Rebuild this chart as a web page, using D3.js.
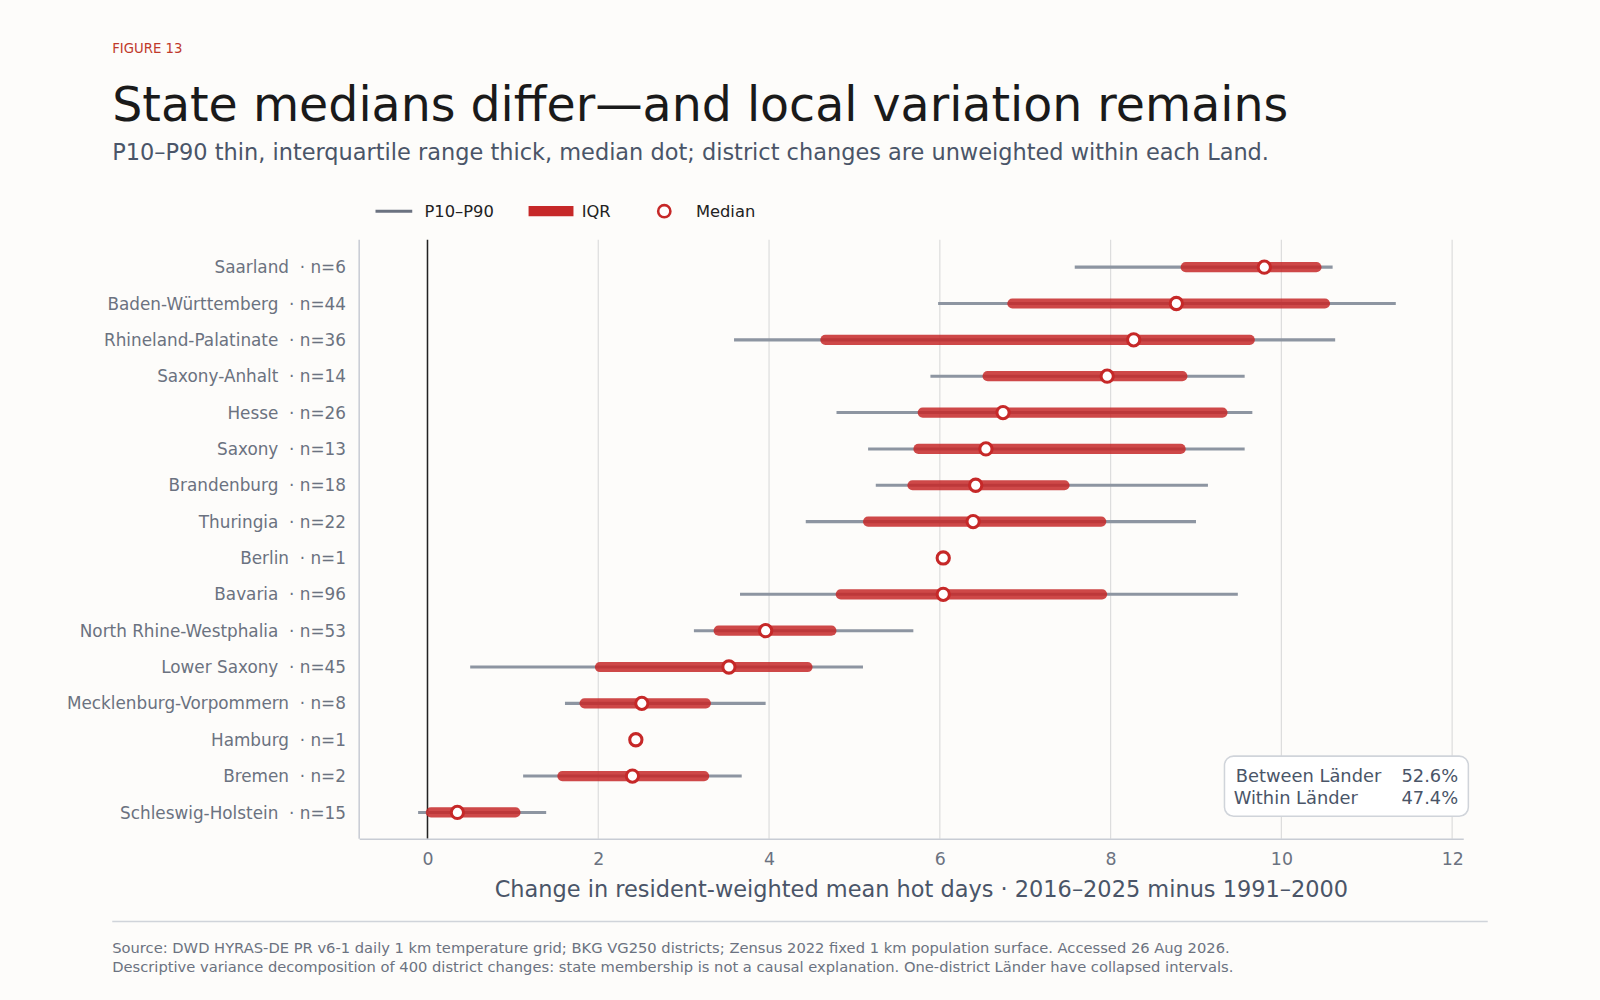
<!DOCTYPE html>
<html><head><meta charset="utf-8">
<script src="https://cdn.jsdelivr.net/npm/d3@7"></script>
<style>body{margin:0;background:#fdfcfa;font-family:"DejaVu Sans",sans-serif} text{white-space:pre}</style>
</head><body><svg width="1600" height="1000"></svg>
<script>
const states = ["Saarland","Baden-Württemberg","Rhineland-Palatinate","Saxony-Anhalt","Hesse","Saxony","Brandenburg","Thuringia","Berlin","Bavaria","North Rhine-Westphalia","Lower Saxony","Mecklenburg-Vorpommern","Hamburg","Bremen","Schleswig-Holstein"];
const counts = [6,44,36,14,26,13,18,22,1,96,53,45,8,1,2,15];
const p10 = [7.58,5.98,3.59,5.89,4.79,5.16,5.25,4.43,6.04,3.66,3.12,0.50,1.61,2.44,1.12,-0.11];
const q1  = [8.88,6.85,4.66,6.56,5.80,5.75,5.68,5.16,6.04,4.84,3.41,2.02,1.84,2.44,1.58,0.04];
const med = [9.80,8.77,8.27,7.96,6.74,6.54,6.42,6.39,6.04,6.04,3.96,3.53,2.51,2.44,2.40,0.35];
const q3  = [10.41,10.51,9.63,8.84,9.31,8.82,7.46,7.89,6.04,7.90,4.73,4.45,3.26,2.44,3.24,1.03];
const p90 = [10.60,11.34,10.63,9.57,9.66,9.57,9.14,9.00,6.04,9.49,5.69,5.10,3.96,2.44,3.68,1.39];
const xTicks = [0,2,4,6,8,10,12];

const svg = d3.select("svg").append("g").attr("transform","scale(1.0204)");
const L = 352, R = 1434, T = 235, B = 822;
const x = d3.scaleLinear().domain([-0.8, 12.13]).range([L, R]);
const y = d3.scaleBand().domain(states).range([T + 9, B - 8]);
const yc = s => y(s) + y.bandwidth() / 2;

svg.append("text").attr("x",110).attr("y",52).attr("fill","#c0392b").attr("font-size",13).text("FIGURE 13");
svg.append("text").attr("x",110).attr("y",119).attr("fill","#1a1a1a").attr("font-size",46.5).text("State medians differ—and local variation remains");
svg.append("text").attr("x",110).attr("y",157).attr("fill","#4a5568").attr("font-size",22).text("P10–P90 thin, interquartile range thick, median dot; district changes are unweighted within each Land.");

// grid
svg.append("g").selectAll("line").data(xTicks).join("line")
  .attr("x1",d=>x(d)).attr("x2",d=>x(d)).attr("y1",T).attr("y2",B)
  .attr("stroke",d=>d===0?"#222":"#dddddd").attr("stroke-width",d=>d===0?1.5:1.2);

const xa = svg.append("g").attr("transform",`translate(0,${B})`)
  .call(d3.axisBottom(x).tickValues(xTicks).tickSize(0).tickPadding(14));
xa.select(".domain").attr("stroke","#c8ccd4").attr("stroke-width",1.5);
xa.selectAll("text").attr("font-size",17).attr("fill","#6b7280").attr("font-family","DejaVu Sans");
svg.append("line").attr("x1",L).attr("x2",L).attr("y1",T).attr("y2",B).attr("stroke","#c8ccd4").attr("stroke-width",1.5);

svg.append("text").attr("x",(L+R)/2+10).attr("y",879).attr("text-anchor","middle").attr("font-size",22).attr("fill","#4a5568")
  .text("Change in resident-weighted mean hot days · 2016–2025 minus 1991–2000");

svg.append("g").selectAll("text").data(states).join("text")
  .attr("x",339).attr("y",d=>yc(d)+6).attr("text-anchor","end").attr("font-size",16.5).attr("fill","#6b7280")
  .text((d,i)=>`${d}  · n=${counts[i]}`);

const rows = svg.append("g");
rows.selectAll(".w").data(states).join("line")
  .attr("x1",(d,i)=>x(p10[i])).attr("x2",(d,i)=>x(p90[i])).attr("y1",yc).attr("y2",yc)
  .attr("stroke","#8d95a1").attr("stroke-width",3);
rows.selectAll(".q").data(states).join("line")
  .attr("x1",(d,i)=>x(q1[i])).attr("x2",(d,i)=>x(q3[i])).attr("y1",yc).attr("y2",yc)
  .attr("stroke","#c62828").attr("stroke-opacity",0.85).attr("stroke-width",10).attr("stroke-linecap","round");
rows.selectAll("circle").data(states).join("circle")
  .attr("cx",(d,i)=>x(med[i])).attr("cy",yc).attr("r",6)
  .attr("fill","white").attr("stroke","#c62828").attr("stroke-width",3);

// legend
const lg = svg.append("g").attr("font-size",16).attr("fill","#222");
lg.append("line").attr("x1",368).attr("x2",404).attr("y1",207).attr("y2",207).attr("stroke","#6b7280").attr("stroke-width",3);
lg.append("text").attr("x",416).attr("y",213).text("P10–P90");
lg.append("line").attr("x1",518).attr("x2",562).attr("y1",207).attr("y2",207).attr("stroke","#c62828").attr("stroke-width",10);
lg.append("text").attr("x",570).attr("y",213).text("IQR");
lg.append("circle").attr("cx",651).attr("cy",207).attr("r",6).attr("fill","white").attr("stroke","#c62828").attr("stroke-width",2.5);
lg.append("text").attr("x",682).attr("y",213).text("Median");

// variance box
const vb = svg.append("g");
vb.append("rect").attr("x",1200).attr("y",741).attr("width",239).attr("height",59).attr("rx",9)
  .attr("fill","white").attr("stroke","#d0d4da").attr("stroke-width",1.5);
vb.append("text").attr("x",1211).attr("y",766).attr("font-size",17.5).attr("fill","#4a5568").text("Between Länder");
vb.append("text").attr("x",1429).attr("y",766).attr("text-anchor","end").attr("font-size",17.5).attr("fill","#4a5568").text("52.6%");
vb.append("text").attr("x",1209).attr("y",788).attr("font-size",17.5).attr("fill","#4a5568").text("Within Länder");
vb.append("text").attr("x",1429).attr("y",788).attr("text-anchor","end").attr("font-size",17.5).attr("fill","#4a5568").text("47.4%");

svg.append("line").attr("x1",110).attr("x2",1458).attr("y1",903).attr("y2",903).attr("stroke","#d0d4da").attr("stroke-width",1.5);
svg.append("text").attr("x",110).attr("y",934).attr("font-size",14.4).attr("fill","#6b7280")
  .text("Source: DWD HYRAS-DE PR v6-1 daily 1 km temperature grid; BKG VG250 districts; Zensus 2022 fixed 1 km population surface. Accessed 26 Aug 2026.");
svg.append("text").attr("x",110).attr("y",953).attr("font-size",14.4).attr("fill","#6b7280")
  .text("Descriptive variance decomposition of 400 district changes: state membership is not a causal explanation. One-district Länder have collapsed intervals.");
</script></body></html>
